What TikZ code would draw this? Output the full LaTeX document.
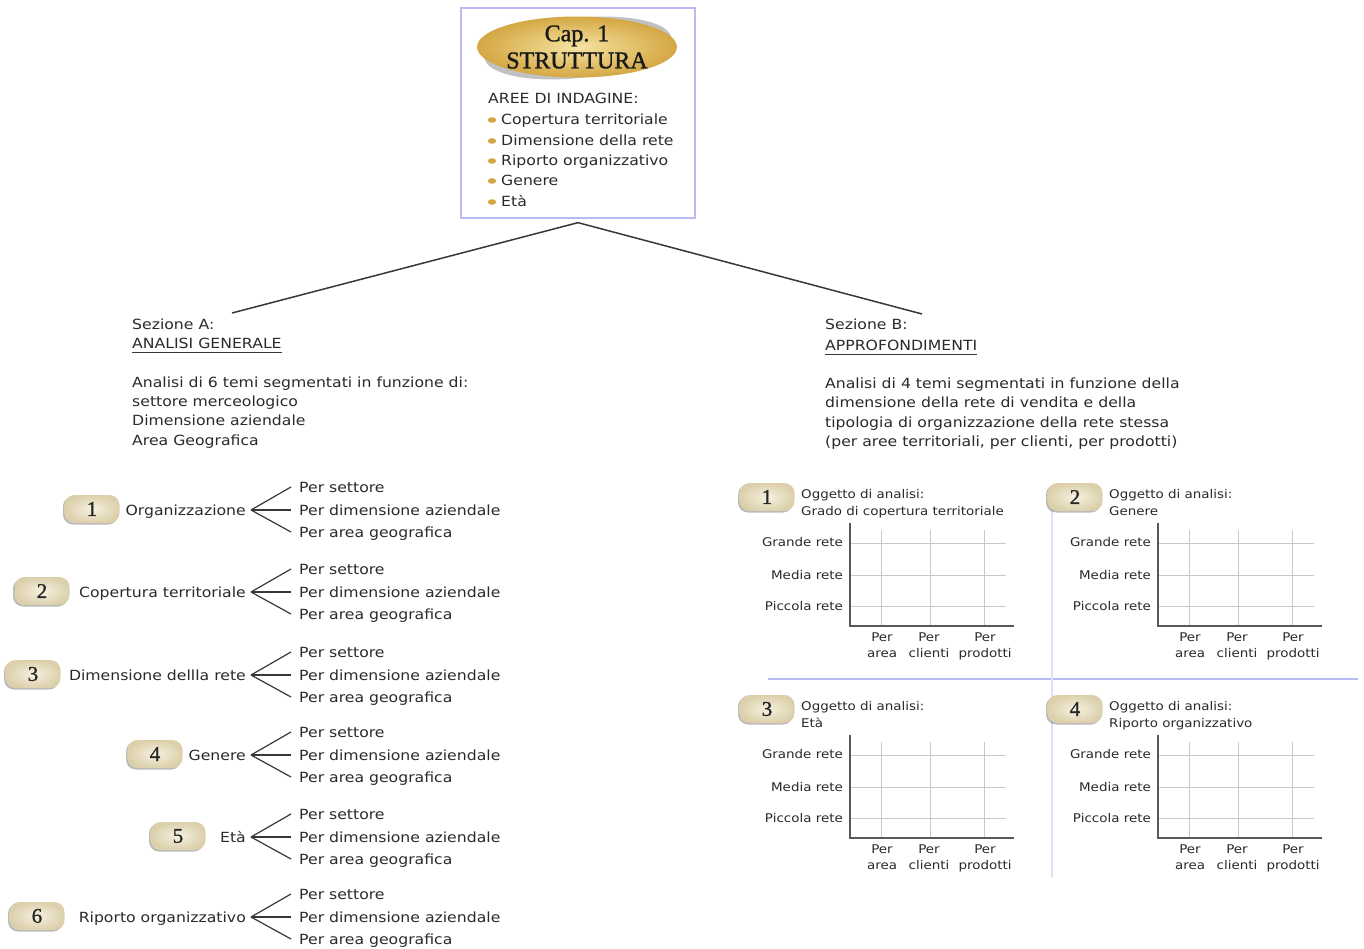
\documentclass[tikz,border=0pt]{standalone}
\usepackage{fontspec}
\setmainfont{DejaVu Sans}[FakeStretch=1.12]
\newfontfamily\serifb{Liberation Serif}
\newfontfamily\serift{Liberation Serif}[FakeBold=1.2]
\usetikzlibrary{shapes.geometric,shadows}
\definecolor{txtc}{HTML}{2A2A2A}
\definecolor{linec}{HTML}{383838}
\definecolor{lav}{HTML}{B8B8F2}
\definecolor{gridc}{HTML}{C8C8C8}
\definecolor{goldA}{HTML}{F6E3A2}
\definecolor{goldB}{HTML}{D4A743}
\definecolor{beigeA}{HTML}{F6F1DF}
\definecolor{beigeB}{HTML}{DCD0AC}
\tikzset{
  txt/.style={text=txtc, inner sep=0pt, text height=10pt, text depth=0pt,
    font=\fontsize{14}{19}\selectfont},
  sm/.style={text=txtc, inner sep=0pt, text height=8.6pt, text depth=0pt,
    font=\fontsize{12}{16}\selectfont},
  smc/.style={text=txtc, inner sep=0pt, align=center,
    font=\fontsize{12}{16}\selectfont},
  badge/.style={rounded corners=10pt, minimum width=55pt, minimum height=28pt,
    inner sep=0pt, inner color=beigeA, outer color=beigeB,
    drop shadow={shadow xshift=-1.5pt, shadow yshift=-1.5pt, fill=black!60, opacity=.45},
    font=\serift\fontsize{21}{21}\selectfont, text=black!85},
  fork/.style={draw=linec, line width=1.2pt},
  conn/.style={draw=linec, line width=1.5pt},
  grid/.style={draw=gridc, line width=0.8pt},
  axis/.style={draw=black!65, line width=2pt},
  divider/.style={draw=lav, line width=1.3pt},
}
\newcommand\leftrow[5]{%
  \node[badge] (#1b) at (#3,#2-1) {#4};
  \node[txt, anchor=east] (#1l) at (246,#2) {#5};
  \node[txt, anchor=west] (#1s) at (299,#2-23) {Per settore};
  \node[txt, anchor=west] (#1d) at (299,#2) {Per dimensione aziendale};
  \node[txt, anchor=west] (#1g) at (299,#2+22) {Per area geografica};
  \coordinate (#1a) at ([xshift=5pt]#1l.east);
  \draw[fork] (#1a) -- ([xshift=-8pt]#1s.west);
  \draw[fork] (#1a) -- ([xshift=-8pt]#1d.west);
  \draw[fork] (#1a) -- ([xshift=-8pt]#1g.west);
}
\newcommand\chartpanel[5]{%
  \begin{scope}[shift={(#2,#3)}]
    \node[badge] (#1b) at (-83,-129) {#4};
    \node[sm, anchor=west] (#1o) at (-49,-132) {Oggetto di analisi:};
    \node[sm, anchor=west] (#1s) at (-49,-115) {#5};
    \foreach \yy in {-83,-51,-20} \draw[grid] (0,\yy) -- (156,\yy);
    \foreach \xx in {31,80,134} \draw[grid] (\xx,-96) -- (\xx,0);
    \draw[axis] (0,-103) -- (0,0) -- (164,0);
    \node[sm, anchor=east] (#1r1) at (-7,-84) {Grande rete};
    \node[sm, anchor=east] (#1r2) at (-7,-51) {Media rete};
    \node[sm, anchor=east] (#1r3) at (-7,-20) {Piccola rete};
    \node[smc, anchor=north] (#1c1) at (32,7) {Per\\area};
    \node[smc, anchor=north] (#1c2) at (79,7) {Per\\clienti};
    \node[smc, anchor=north] (#1c3) at (135,7) {Per\\prodotti};
  \end{scope}
}
\begin{document}
\begin{tikzpicture}[x=1pt,y=-1pt]
\useasboundingbox[fill=white] (0,0) rectangle (1364,949);

% top box
\node[draw=lav, line width=1.3pt, minimum width=234pt, minimum height=210pt, inner sep=0pt] (topbox) at (578,113) {};
\fill[black!40, opacity=.6] (578,48) ellipse [x radius=94, y radius=30, rotate=6];
\node[ellipse, minimum width=186pt, minimum height=58pt, inner sep=0pt,
  inner color=goldA, outer color=goldB, align=center,
  font=\serift\fontsize{24}{27}\selectfont, text=black!90] (title) at (577,47) {Cap. 1\\STRUTTURA};
\node[txt, anchor=west] (aree) at (488,99) {AREE DI INDAGINE:};
\foreach \yy/\tt [count=\i] in {120/Copertura territoriale, 141/Dimensione della rete, 161/Riporto organizzativo, 181/Genere, 202/Età}{
  \fill[goldB] (492,\yy) ellipse [x radius=4.2, y radius=2.8];
  \node[txt, anchor=west] (li\i) at (501,\yy) {\tt};
}

% connectors
\coordinate (tipA) at (232,313);
\coordinate (tipB) at (922,314);
\draw[conn] ([yshift=-4pt]topbox.south) -- (tipA);
\draw[conn] ([yshift=-4pt]topbox.south) -- (tipB);

% section A
\node[txt, anchor=west] (secA1) at (132,324) {Sezione A:};
\node[txt, anchor=west] (secA2) at (132,343) {ANALISI GENERALE};
\draw[linec, line width=1.1pt] ([yshift=-4pt]secA2.south west) -- ([yshift=-4pt]secA2.south east);
\node[txt, anchor=west] (pA1) at (132,382) {Analisi di 6 temi segmentati in funzione di:};
\node[txt, anchor=west] (pA2) at (132,401) {settore merceologico};
\node[txt, anchor=west] (pA3) at (132,420) {Dimensione aziendale};
\node[txt, anchor=west] (pA4) at (132,440) {Area Geografica};

% section B
\node[txt, anchor=west] (secB1) at (825,325) {Sezione B:};
\node[txt, anchor=west] (secB2) at (825,345) {APPROFONDIMENTI};
\draw[linec, line width=1.1pt] ([yshift=-4pt]secB2.south west) -- ([yshift=-4pt]secB2.south east);
\node[txt, anchor=west] (pB1) at (825,383) {Analisi di 4 temi segmentati in funzione della};
\node[txt, anchor=west] (pB2) at (825,402) {dimensione della rete di vendita e della};
\node[txt, anchor=west] (pB3) at (825,422) {tipologia di organizzazione della rete stessa};
\node[txt, anchor=west] (pB4) at (825,441) {(per aree territoriali, per clienti, per prodotti)};

% left rows
\leftrow{r1}{510}{92}{1}{Organizzazione}
\leftrow{r2}{592}{42}{2}{Copertura territoriale}
\leftrow{r3}{675}{33}{3}{Dimensione dellla rete}
\leftrow{r4}{755}{155}{4}{Genere}
\leftrow{r5}{837}{178}{5}{Età}
\leftrow{r6}{917}{37}{6}{Riporto organizzativo}

% dividers
\draw[divider] (768,679) -- (1358,679);
\draw[divider, draw=lav!45] (1052,500) -- (1052,877);

% panels
\chartpanel{p1}{850}{626}{1}{Grado di copertura territoriale}
\chartpanel{p2}{1158}{626}{2}{Genere}
\chartpanel{p3}{850}{838}{3}{Età}
\chartpanel{p4}{1158}{838}{4}{Riporto organizzativo}
\end{tikzpicture}
\end{document}
